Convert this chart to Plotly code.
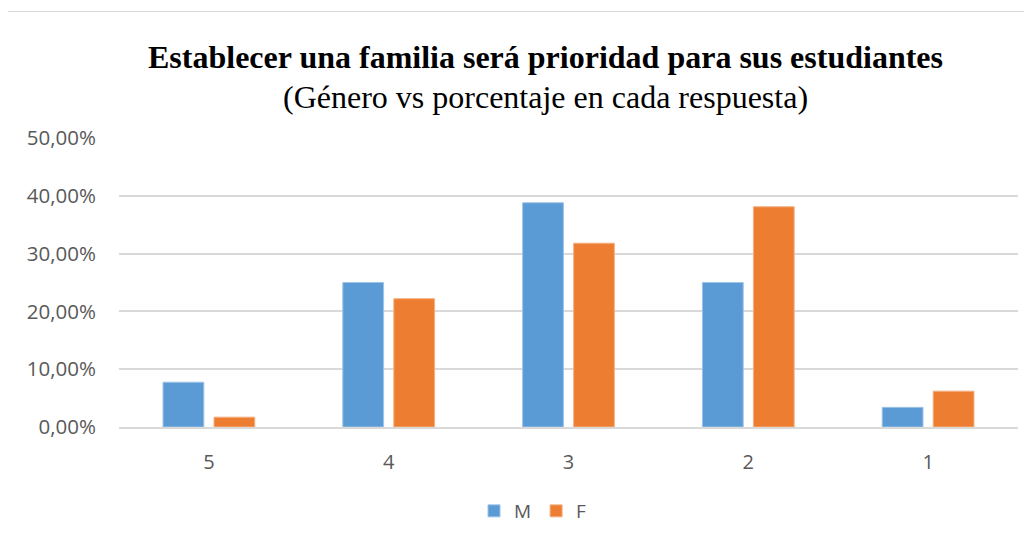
import plotly.graph_objects as go

categories = ["5", "4", "3", "2", "1"]
m_values = [0.0775, 0.25, 0.388, 0.25, 0.034]
f_values = [0.017, 0.222, 0.318, 0.381, 0.062]
title_text = "Establecer una familia será prioridad para sus estudiantes"
subtitle_text = "(Género vs porcentaje en cada respuesta)"

# page body has an 8px margin; work in reference pixel coords and shift
OFF = 8
W, H = 1032 - OFF, 544 - OFF
L, R, T, B = 119 - OFF, 14, 138 - OFF, 117
pw, ph = W - L - R, H - T - B

def px(x):
    return (x - OFF - L) / pw

def py(y):
    return (H - B - (y - OFF)) / ph

fig = go.Figure()
fig.add_trace(go.Bar(name="M", x=categories, y=m_values,
                     marker=dict(color="#5B9BD5", line=dict(color="#9DC3E6", width=1))))
fig.add_trace(go.Bar(name="F", x=categories, y=f_values,
                     marker=dict(color="#ED7D31", line=dict(color="#F4B183", width=1))))

fig.update_layout(
    width=W, height=H,
    margin=dict(l=L, r=R, t=T, b=B, pad=0),
    paper_bgcolor="white", plot_bgcolor="white",
    separators=",.",
    barmode="group", bargap=0.433, bargroupgap=0.2,
    font=dict(family="Open Sans, Noto Sans, sans-serif", color="#595959", size=20),
    showlegend=True,
    legend=dict(orientation="h", x=px(533), y=py(511), xanchor="center", yanchor="middle",
                font=dict(size=19, color="#595959"), itemwidth=30, tracegroupgap=0),
    yaxis=dict(range=[0, 0.5], dtick=0.1, tickformat=".2%", showgrid=True,
               gridcolor="#D9D9D9", gridwidth=1.5, zeroline=False, showline=False,
               ticks="", ticklabelstandoff=22, tickfont=dict(size=20.5, color="#595959"),
               fixedrange=True),
    xaxis=dict(showgrid=False, zeroline=False, showline=True, linecolor="#D9D9D9", linewidth=1.5,
               ticks="", ticklabelstandoff=16, tickfont=dict(size=20, color="#595959"),
               categoryorder="array", categoryarray=categories),
)

fig.add_annotation(text="<b>" + title_text + "</b>", xref="paper", yref="paper",
                   x=px(545), y=py(57), xanchor="center", yanchor="middle", showarrow=False,
                   font=dict(family="Liberation Serif, Times New Roman, serif", size=32, color="black"))
fig.add_annotation(text=subtitle_text, xref="paper", yref="paper",
                   x=px(545), y=py(97), xanchor="center", yanchor="middle", showarrow=False,
                   font=dict(family="Liberation Serif, Times New Roman, serif", size=32, color="black"))

fig.add_shape(type="rect", xref="paper", yref="paper",
              x0=px(4.5), x1=px(1030.5), y0=py(600), y1=py(11.5),
              line=dict(color="#D9D9D9", width=1), fillcolor="rgba(0,0,0,0)", layer="below")

fig.write_html("out.html")
